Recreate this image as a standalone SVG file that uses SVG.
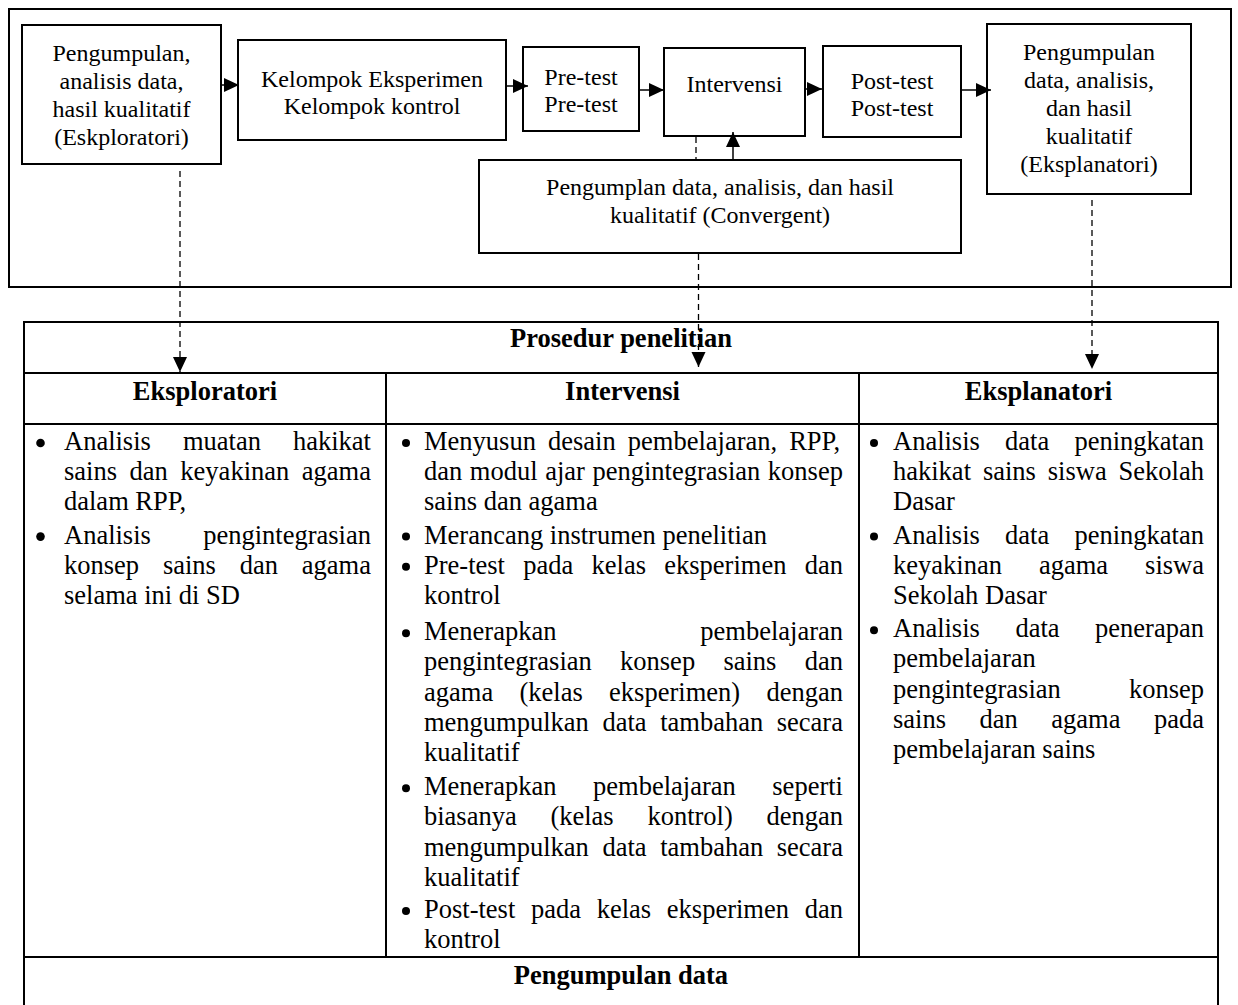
<svg xmlns="http://www.w3.org/2000/svg" width="1238" height="1005" viewBox="0 0 1238 1005">
<style>
text{font-family:"Liberation Serif","Times New Roman",serif;fill:#000}
.box{fill:#fff;stroke:#000;stroke-width:2}
.frame{fill:none;stroke:#000;stroke-width:2}
.t{font-size:24px;text-anchor:middle}
.b{font-size:26.5px}
.bul{fill:#000}
.h{font-size:26.5px;font-weight:bold;text-anchor:middle}
.ln{stroke:#000;stroke-width:2;fill:none}
.con{stroke:#000;stroke-width:1.5;fill:none}
.dash{stroke-dasharray:6 4;stroke-width:1.3}
</style>
<defs>
<marker id="ah" markerUnits="userSpaceOnUse" markerWidth="16" markerHeight="15" refX="15" refY="7" orient="auto">
<path d="M0,0 L15,7 L0,14 z" fill="#000"/>
</marker>
</defs>
<rect width="1238" height="1005" fill="#fff"/>

<g id="frame-top"><rect class="frame" x="9" y="9" width="1222" height="278"/></g>

<g id="node-eksploratori">
<rect class="box" x="22" y="25" width="199" height="139"/>
<text class="t" x="121.5" y="61">Pengumpulan,</text>
<text class="t" x="121.5" y="89">analisis data,</text>
<text class="t" x="121.5" y="117">hasil kualitatif</text>
<text class="t" x="121.5" y="145">(Eskploratori)</text>
</g>
<g id="node-kelompok">
<rect class="box" x="238" y="40" width="268" height="100"/>
<text class="t" x="372" y="87">Kelompok Eksperimen</text>
<text class="t" x="372" y="114">Kelompok kontrol</text>
</g>
<g id="node-pretest">
<rect class="box" x="523" y="47" width="116" height="84"/>
<text class="t" x="581" y="85">Pre-test</text>
<text class="t" x="581" y="112">Pre-test</text>
</g>
<g id="node-intervensi">
<rect class="box" x="664" y="48" width="141" height="88"/>
<text class="t" x="734.5" y="92">Intervensi</text>
</g>
<g id="node-posttest">
<rect class="box" x="823" y="46" width="138" height="91"/>
<text class="t" x="892" y="89">Post-test</text>
<text class="t" x="892" y="116">Post-test</text>
</g>
<g id="node-eksplanatori">
<rect class="box" x="987" y="24" width="204" height="170"/>
<text class="t" x="1089" y="60">Pengumpulan</text>
<text class="t" x="1089" y="88">data, analisis,</text>
<text class="t" x="1089" y="116">dan hasil</text>
<text class="t" x="1089" y="144">kualitatif</text>
<text class="t" x="1089" y="172">(Eksplanatori)</text>
</g>
<g id="node-convergent">
<rect class="box" x="479" y="160" width="482" height="93"/>
<text class="t" x="720" y="195">Pengumplan data, analisis, dan hasil</text>
<text class="t" x="720" y="223">kualitatif (Convergent)</text>
</g>

<g id="table">
<path class="ln" d="M24,1005 V322 H1218 V1005 M24,373 H1218 M24,424 H1218 M24,957 H1218 M386,373 V957 M859,373 V957"/>
<text class="h" x="621" y="347">Prosedur penelitian</text>
<text class="h" x="205" y="399.5">Eksploratori</text>
<text class="h" x="622.5" y="399.5">Intervensi</text>
<text class="h" x="1038.5" y="399.5">Eksplanatori</text>
<text class="h" x="621" y="984">Pengumpulan data</text>

<g id="col-eksploratori">
<circle class="bul" cx="40.5" cy="443" r="4.3"/>
<circle class="bul" cx="40.5" cy="536.6" r="4.3"/>
<text class="b" x="64" y="450" word-spacing="25.43">Analisis muatan hakikat</text>
<text class="b" x="64" y="480.2" word-spacing="5.92">sains dan keyakinan agama</text>
<text class="b" x="64" y="510.4">dalam RPP,</text>
<text class="b" x="64" y="543.6" word-spacing="45.7">Analisis pengintegrasian</text>
<text class="b" x="64" y="573.8" word-spacing="17.2">konsep sains dan agama</text>
<text class="b" x="64" y="604">selama ini di SD</text>
</g>

<g id="col-intervensi">
<circle class="bul" cx="406" cy="443" r="4"/>
<circle class="bul" cx="406" cy="536.6" r="4"/>
<circle class="bul" cx="406" cy="566.8" r="4"/>
<circle class="bul" cx="406" cy="633.2" r="4"/>
<circle class="bul" cx="406" cy="788.2" r="4"/>
<circle class="bul" cx="406" cy="911" r="4"/>
<text class="b" x="424" y="450" word-spacing="5.46">Menyusun desain pembelajaran, RPP,</text>
<text class="b" x="424" y="480.2" word-spacing="0.97">dan modul ajar pengintegrasian konsep</text>
<text class="b" x="424" y="510.4">sains dan agama</text>
<text class="b" x="424" y="543.6">Merancang instrumen penelitian</text>
<text class="b" x="424" y="573.8" word-spacing="11.65">Pre-test pada kelas eksperimen dan</text>
<text class="b" x="424" y="604">kontrol</text>
<text class="b" x="424" y="640.2" word-spacing="137.2">Menerapkan pembelajaran</text>
<text class="b" x="424" y="670.4" word-spacing="21.66">pengintegrasian konsep sains dan</text>
<text class="b" x="424" y="700.6" word-spacing="19.72">agama (kelas eksperimen) dengan</text>
<text class="b" x="424" y="730.8" word-spacing="6.95">mengumpulkan data tambahan secara</text>
<text class="b" x="424" y="761">kualitatif</text>
<text class="b" x="424" y="795.2" word-spacing="29.95">Menerapkan pembelajaran seperti</text>
<text class="b" x="424" y="825.4" word-spacing="27.07">biasanya (kelas kontrol) dengan</text>
<text class="b" x="424" y="855.6" word-spacing="6.95">mengumpulkan data tambahan secara</text>
<text class="b" x="424" y="885.8">kualitatif</text>
<text class="b" x="424" y="918" word-spacing="9.07">Post-test pada kelas eksperimen dan</text>
<text class="b" x="424" y="948.2">kontrol</text>
</g>

<g id="col-eksplanatori">
<circle class="bul" cx="874" cy="443" r="4"/>
<circle class="bul" cx="874" cy="536.6" r="4"/>
<circle class="bul" cx="874" cy="630.2" r="4"/>
<text class="b" x="893" y="450" word-spacing="18.6">Analisis data peningkatan</text>
<text class="b" x="893" y="480.2" word-spacing="5.28">hakikat sains siswa Sekolah</text>
<text class="b" x="893" y="510.4">Dasar</text>
<text class="b" x="893" y="543.6" word-spacing="18.6">Analisis data peningkatan</text>
<text class="b" x="893" y="573.8" word-spacing="30.4">keyakinan agama siswa</text>
<text class="b" x="893" y="604">Sekolah Dasar</text>
<text class="b" x="893" y="637.2" word-spacing="28.9">Analisis data penerapan</text>
<text class="b" x="893" y="667.4">pembelajaran</text>
<text class="b" x="893" y="697.6" word-spacing="61.5">pengintegrasian konsep</text>
<text class="b" x="893" y="727.8" word-spacing="26.9">sains dan agama pada</text>
<text class="b" x="893" y="758">pembelajaran sains</text>
</g>
</g>

<g id="connectors">
<path class="con" d="M221,85 H239" marker-end="url(#ah)"/>
<path class="con" d="M506,86 H528" marker-end="url(#ah)"/>
<path class="con" d="M639,90 H664" marker-end="url(#ah)"/>
<path class="con" d="M805,89 H822" marker-end="url(#ah)"/>
<path class="con" d="M962,90 H991" marker-end="url(#ah)"/>
<path class="con" d="M733,160 V132" marker-end="url(#ah)"/>
<path class="con dash" d="M696,137 V160"/>
<path class="con dash" d="M180,171 V372" marker-end="url(#ah)"/>
<path class="con dash" d="M698.5,254 V367" marker-end="url(#ah)"/>
<path class="con dash" d="M1092,200 V369" marker-end="url(#ah)"/>
</g>
</svg>
